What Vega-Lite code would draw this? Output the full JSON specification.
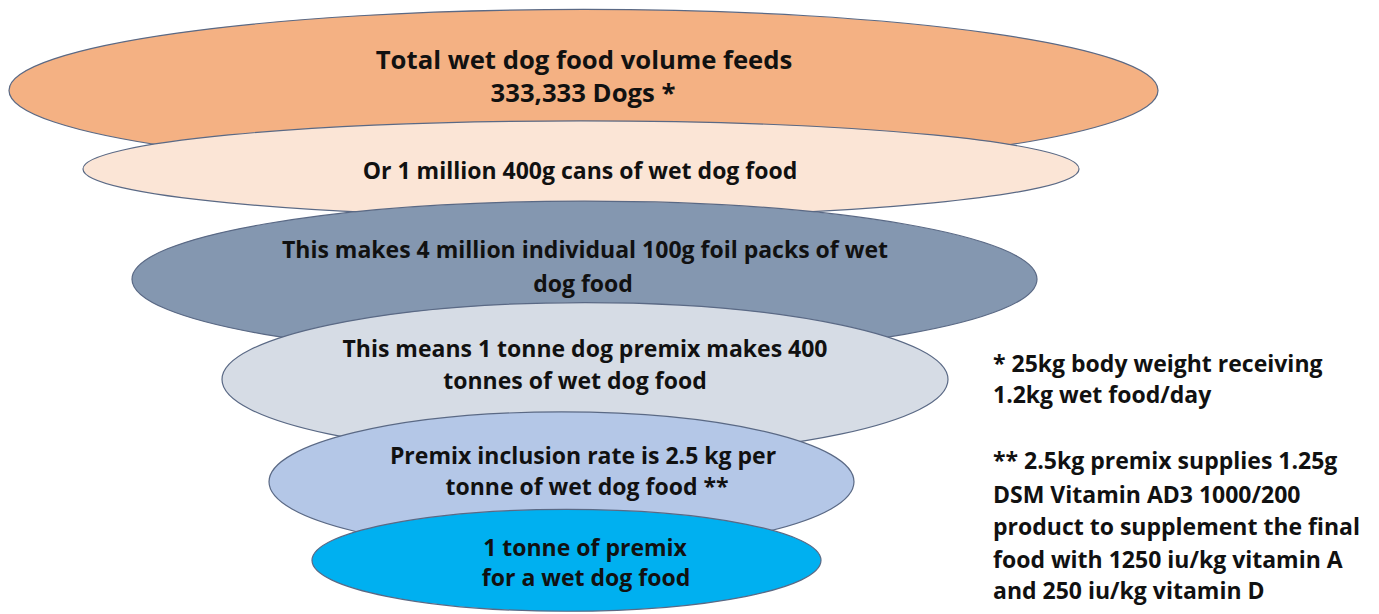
{
  "$schema": "https://vega.github.io/schema/vega-lite/v6.json",
  "width": 1379,
  "height": 614,
  "padding": 0,
  "autosize": {"type": "fit", "contains": "padding"},
  "background": "white",
  "config": {"view": {"stroke": null}},
  "datasets": {
    "tiers": [
      {"tier": "t1", "order": 1, "cx": 583.5, "cy": 91, "w": 1149},
      {"tier": "t2", "order": 2, "cx": 581, "cy": 170, "w": 996},
      {"tier": "t3", "order": 3, "cx": 584.5, "cy": 281, "w": 905},
      {"tier": "t4", "order": 4, "cx": 585, "cy": 382, "w": 726},
      {"tier": "t5", "order": 5, "cx": 561.5, "cy": 485, "w": 585},
      {"tier": "t6", "order": 6, "cx": 566.5, "cy": 564, "w": 509}
    ],
    "labels": [
      {"kind": "title", "x": 584, "y": 69, "text": "Total wet dog food volume feeds"},
      {"kind": "title", "x": 583, "y": 103, "text": "333,333 Dogs *"},
      {"kind": "body", "x": 580, "y": 180, "text": "Or 1 million 400g cans of wet dog food"},
      {"kind": "body", "x": 585, "y": 260, "text": "This makes 4 million individual 100g foil packs of wet"},
      {"kind": "body", "x": 583, "y": 294, "text": "dog food"},
      {"kind": "body", "x": 585, "y": 359, "text": "This means 1 tonne dog premix makes 400"},
      {"kind": "body", "x": 575, "y": 392, "text": "tonnes of wet dog food"},
      {"kind": "body", "x": 583, "y": 467, "text": "Premix inclusion rate is 2.5 kg per"},
      {"kind": "body", "x": 587, "y": 498, "text": "tonne of wet dog food **"},
      {"kind": "body", "x": 585, "y": 560, "text": "1 tonne of premix"},
      {"kind": "body", "x": 586, "y": 590, "text": "for a wet dog food"},
      {"kind": "note", "x": 993, "y": 374, "text": "* 25kg body weight receiving"},
      {"kind": "note", "x": 993, "y": 406, "text": "1.2kg wet food/day"},
      {"kind": "note", "x": 993, "y": 472, "text": "** 2.5kg premix supplies 1.25g"},
      {"kind": "note", "x": 993, "y": 506, "text": "DSM Vitamin AD3 1000/200"},
      {"kind": "note", "x": 993, "y": 539, "text": "product to supplement the final"},
      {"kind": "note", "x": 993, "y": 572, "text": "food with 1250 iu/kg vitamin A"},
      {"kind": "note", "x": 993, "y": 603, "text": "and 250 iu/kg vitamin D"}
    ]
  },
  "layer": [
    {
      "data": {"name": "tiers"},
      "mark": {"type": "point", "filled": true, "opacity": 1, "stroke": "#5A6985", "strokeWidth": 1.2, "strokeOpacity": 1},
      "encoding": {
        "x": {"field": "cx", "type": "quantitative", "scale": {"domain": [0, 1379], "nice": false, "zero": false}, "axis": null},
        "y": {"field": "cy", "type": "quantitative", "scale": {"domain": [0, 614], "nice": false, "zero": false, "reverse": true}, "axis": null},
        "size": {"field": "w", "type": "quantitative", "scale": {"type": "pow", "exponent": 2, "domain": [0, 1379], "range": [0, 1901641]}, "legend": null},
        "shape": {"field": "tier", "type": "nominal", "scale": {"domain": ["t1", "t2", "t3", "t4", "t5", "t6"], "range": [
          "M-1,0C-1,-0.0779,-0.5523,-0.141,0,-0.141C0.5523,-0.141,1,-0.0779,1,0C1,0.0779,0.5523,0.141,0,0.141C-0.5523,0.141,-1,0.0779,-1,0Z",
          "M-1,0C-1,-0.0532,-0.5523,-0.0964,0,-0.0964C0.5523,-0.0964,1,-0.0532,1,0C1,0.0532,0.5523,0.0964,0,0.0964C-0.5523,0.0964,-1,0.0532,-1,0Z",
          "M-1,0C-1,-0.0952,-0.5523,-0.1724,0,-0.1724C0.5523,-0.1724,1,-0.0952,1,0C1,0.0952,0.5523,0.1724,0,0.1724C-0.5523,0.1724,-1,0.0952,-1,0Z",
          "M-1,0C-1,-0.1171,-0.5523,-0.212,0,-0.212C0.5523,-0.212,1,-0.1171,1,0C1,0.1171,0.5523,0.212,0,0.212C-0.5523,0.212,-1,0.1171,-1,0Z",
          "M-1,0C-1,-0.132,-0.5523,-0.239,0,-0.239C0.5523,-0.239,1,-0.132,1,0C1,0.132,0.5523,0.239,0,0.239C-0.5523,0.239,-1,0.132,-1,0Z",
          "M-1,0C-1,-0.1105,-0.5523,-0.2,0,-0.2C0.5523,-0.2,1,-0.1105,1,0C1,0.1105,0.5523,0.2,0,0.2C-0.5523,0.2,-1,0.1105,-1,0Z"
        ]}, "legend": null},
        "color": {"field": "tier", "type": "nominal", "scale": {"domain": ["t1", "t2", "t3", "t4", "t5", "t6"], "range": ["#F4B183", "#FBE5D6", "#8497B0", "#D6DCE5", "#B4C7E7", "#00B0F0"]}, "legend": null},
        "order": {"field": "order", "type": "quantitative"}
      }
    },
    {
      "data": {"name": "labels"},
      "transform": [{"filter": "datum.kind === 'title'"}],
      "mark": {"type": "text", "font": "Open Sans", "fontWeight": "bold", "fontSize": 25.7, "align": "center", "baseline": "alphabetic", "color": "#111111"},
      "encoding": {
        "x": {"field": "x", "type": "quantitative"},
        "y": {"field": "y", "type": "quantitative"},
        "text": {"field": "text", "type": "nominal"}
      }
    },
    {
      "data": {"name": "labels"},
      "transform": [{"filter": "datum.kind === 'body'"}],
      "mark": {"type": "text", "font": "Open Sans", "fontWeight": "bold", "fontSize": 23, "align": "center", "baseline": "alphabetic", "color": "#111111"},
      "encoding": {
        "x": {"field": "x", "type": "quantitative"},
        "y": {"field": "y", "type": "quantitative"},
        "text": {"field": "text", "type": "nominal"}
      }
    },
    {
      "data": {"name": "labels"},
      "transform": [{"filter": "datum.kind === 'note'"}],
      "mark": {"type": "text", "font": "Open Sans", "fontWeight": "bold", "fontSize": 23, "align": "left", "baseline": "alphabetic", "color": "#111111"},
      "encoding": {
        "x": {"field": "x", "type": "quantitative"},
        "y": {"field": "y", "type": "quantitative"},
        "text": {"field": "text", "type": "nominal"}
      }
    }
  ]
}
